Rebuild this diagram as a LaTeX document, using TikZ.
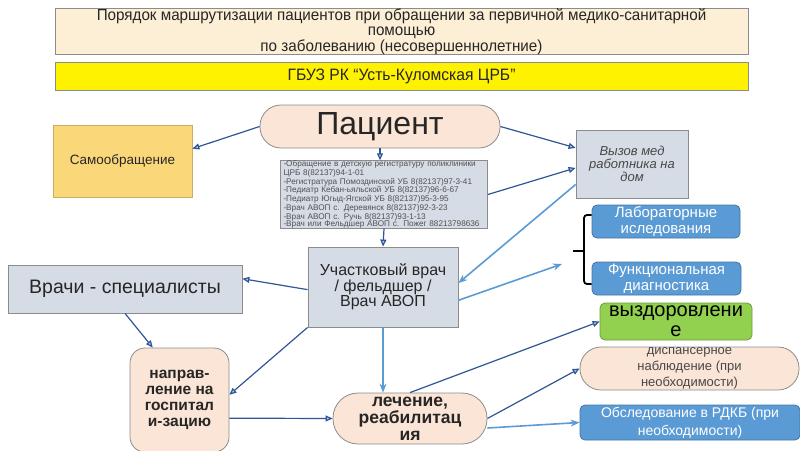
\documentclass[tikz,border=0pt]{standalone}
\usepackage{fontspec}
\setmainfont{Liberation Sans}
\newfontfamily\narrowfont[FakeStretch=0.95]{Liberation Sans}
\usetikzlibrary{arrows.meta}
\definecolor{cream}{HTML}{FCEFD6}
\definecolor{peach}{HTML}{FBE5D6}
\definecolor{gold}{HTML}{FAD87A}
\definecolor{steel}{HTML}{D6DCE5}
\definecolor{skyblue}{HTML}{5B9BD5}
\definecolor{darkblue}{HTML}{2F5597}
\definecolor{tipfill}{HTML}{B4C7E7}
\definecolor{leaf}{HTML}{92D050}
\definecolor{framegray}{HTML}{8C8C8C}
\definecolor{ink}{HTML}{262626}

\begin{document}
\begin{tikzpicture}[x=1pt,y=-1pt,
  box/.style={draw=framegray, line width=0.8pt, inner sep=0pt, align=center, text=ink},
  darr/.style={draw=darkblue, line width=1.2pt, -{Triangle[length=7pt,width=6pt,fill=tipfill]}},
  larr/.style={draw=skyblue, line width=1.6pt, -{Stealth[length=9pt,width=7pt]}}]
\useasboundingbox (0,0) rectangle (800,450);
% header
\node[box, fill=cream, minimum width=693pt, minimum height=42pt, font=\narrowfont\fontsize{16}{15.5}\selectfont] (title) at (401.5,31.5)
  {Порядок маршрутизации пациентов при обращении за первичной медико-санитарной\\помощью\\по заболеванию (несовершеннолетние)};
\node[box, fill=yellow, minimum width=693pt, minimum height=28pt, font=\narrowfont\fontsize{16.5}{17}\selectfont] (gbuz) at (401.5,76)
  {ГБУЗ РК “Усть-Куломская ЦРБ”};
% main nodes
\node[box, fill=peach, rounded corners=21pt, minimum width=240pt, minimum height=43pt, font=\fontsize{32}{34}\selectfont] (pac) at (380,126.5) {Пациент};
\node[box, fill=gold, draw=gold!80!black, minimum width=139pt, minimum height=72pt, font=\fontsize{13.5}{15}\selectfont] (samo) at (122.5,161) {Самообращение};
\node[box, fill=steel, minimum width=207pt, minimum height=67pt, text width=201pt, align=left, text=ink!80, font=\fontsize{8.2}{7.6}\selectfont] (reg) at (384,194.5)
  {-Обращение в детскую регистратуру поликлиники\\ЦРБ 8(82137)94-1-01\\-Регистратура Помоздинской УБ 8(82137)97-3-41\\-Педиатр Кебан-ьяльской УБ 8(82137)96-6-67\\-Педиатр Югыд-Ягской УБ 8(82137)95-3-95\\-Врач АВОП с. Деревянск 8(82137)92-3-23\\-Врач АВОП с. Ручь 8(82137)93-1-13\\-Врач или Фельдшер АВОП с. Пожег 88213798636};
\node[box, fill=steel, minimum width=112pt, minimum height=68pt, text=ink!85, font=\itshape\fontsize{13}{13}\selectfont] (vyzov) at (632,164) {Вызов мед\\работника на\\дом};
\node[box, fill=skyblue, draw=skyblue!75!black, rounded corners=5pt, minimum width=148pt, minimum height=33pt, text=white, font=\fontsize{15}{16}\selectfont] (lab) at (666,221.5) {Лабораторные\\иследования};
\node[box, fill=skyblue, draw=skyblue!75!black, rounded corners=5pt, minimum width=149pt, minimum height=33pt, text=white, font=\fontsize{15}{16}\selectfont] (func) at (666.5,278.5) {Функциональная\\диагностика};
\node[box, fill=leaf, draw=leaf!75!black, rounded corners=5pt, minimum width=152pt, minimum height=37pt, text=black, font=\fontsize{20}{20}\selectfont] (vyzd) at (676,321.5) {выздоровлени\\е};
\node[box, fill=peach, rounded corners=21pt, minimum width=219pt, minimum height=43pt, text=ink!85, font=\fontsize{13}{16}\selectfont] (disp) at (689.5,368.5) {диспансерное\\наблюдение (при\\необходимости)};
\node[box, fill=skyblue, draw=skyblue!75!black, rounded corners=5pt, minimum width=220pt, minimum height=35pt, text=white, font=\fontsize{14}{18}\selectfont] (rdkb) at (690,422.5) {Обследование в РДКБ (при\\необходимости)};
\node[box, fill=steel, minimum width=234pt, minimum height=48pt, font=\fontsize{19.5}{20}\selectfont] (vrachi) at (125,289) {Врачи - специалисты};
\node[box, fill=steel, minimum width=150pt, minimum height=80pt, font=\fontsize{16}{14}\selectfont] (uch) at (383,287) {Участковый врач\\/ фельдшер /\\Врач АВОП};
\node[box, fill=peach, rounded corners=15pt, minimum width=99pt, minimum height=104pt, font=\bfseries\fontsize{15.5}{16}\selectfont] (napr) at (179.5,400) {направ-\\ление на\\госпитал\\и-зацию};
\node[box, fill=peach, rounded corners=25pt, minimum width=154pt, minimum height=51pt, font=\bfseries\fontsize{17.5}{17}\selectfont] (lech) at (410,418.5) {лечение,\\реабилитац\\ия};
% brace
\coordinate (brace) at (573,251);
\coordinate (bracein) at (562,264);
\draw[line width=1.8pt, rounded corners=3pt] (lab.west |- 0,215) -- (584,215) -- (584,284) -- (func.west |- 0,284);
\draw[line width=1.8pt] (584,251) -- (brace);
% connectors
\draw[darr] (pac.west) -- (samo.10);
\draw[darr] (pac.south) -- (pac.south |- reg.north);
\draw[darr] (pac.east) -- (vyzov.164);
\draw[darr] (reg.east) -- (vyzov.184);
\draw[darr] (reg.south) -- (uch.north);
\draw[larr] (vyzov.200) -- (uch.3);
\draw[larr] (uch.-10) -- (bracein);
\draw[darr] (uch.182) -- (vrachi.5);
\draw[darr] (uch.south west) -- (napr.6);
\draw[darr] (vrachi.south) -- (napr.117);
\draw[darr] (napr.-20) -- (lech.west);
\draw[larr] (uch.south) -- (uch.south |- lech.north);
\draw[darr] (lech.north) -- (vyzd.west);
\draw[darr] (lech.east) -- (disp.west);
\draw[larr] (lech.-7) -- (rdkb.west);
\end{tikzpicture}
\end{document}
